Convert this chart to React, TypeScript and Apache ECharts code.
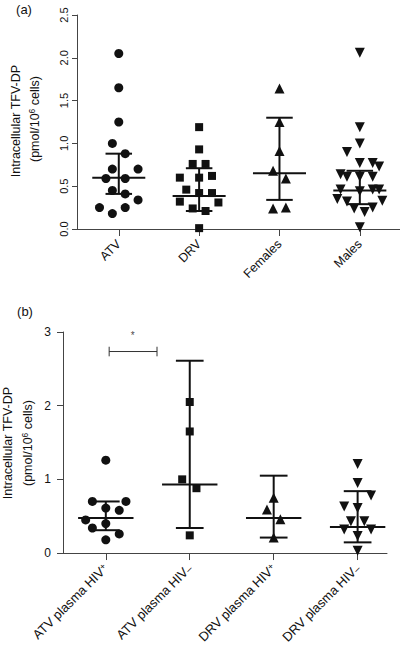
import React, { useEffect, useRef } from 'react';
import * as echarts from 'echarts';

// ---------- Panel (a) ----------
const groupsA = ['ATV', 'DRV', 'Females', 'Males'];
const atvA = [2.05, 1.65, 1.25, 1.0, 0.88, 0.7, 0.7, 0.59, 0.59, 0.45, 0.41, 0.34, 0.25, 0.25, 0.18];
const atvAJitter = [0, 0, 0, -0.08, 0.08, -0.08, 0.24, -0.16, 0.08, -0.08, 0.08, 0.24, -0.24, 0.08, -0.08];
const drvA = [1.19, 0.93, 0.76, 0.76, 0.62, 0.6, 0.6, 0.46, 0.42, 0.42, 0.32, 0.31, 0.24, 0.21, 0.01];
const drvAJitter = [0, 0, -0.08, 0.08, 0.16, 0, -0.24, -0.16, 0, 0.16, -0.24, 0.24, -0.08, 0.08, 0];
const femA = [1.64, 1.25, 0.91, 0.68, 0.59, 0.25, 0.24];
const femAJitter = [0, 0, 0, -0.08, 0.08, 0.08, -0.08];
const maleA = [2.06, 1.19, 1.0, 0.9, 0.77, 0.77, 0.73, 0.64, 0.61, 0.61, 0.61, 0.46, 0.44, 0.46, 0.46, 0.35, 0.32, 0.33, 0.24, 0.25, 0.2, 0.02];
const maleAJitter = [0, 0, 0, -0.16, 0, 0.16, 0.24, -0.24, -0.16, 0, 0.16, -0.24, 0, 0.16, 0.24, -0.28, -0.16, 0.28, -0.07, 0.16, 0.06, 0];
const medianA = [0.6, 0.385, 0.65, 0.45];
const lowerA = [0.41, 0.21, 0.34, 0.29];
const upperA = [0.88, 0.71, 1.3, 0.68];
const yTicksA = [0, 0.5, 1.0, 1.5, 2.0, 2.5];

// ---------- Panel (b) ----------
const groupsB = ['ATV plasma HIV+', 'ATV plasma HIV–', 'DRV plasma HIV+', 'DRV plasma HIV–'];
const atvPosB = [1.26, 0.7, 0.7, 0.61, 0.58, 0.45, 0.4, 0.34, 0.26, 0.18];
const atvPosBJitter = [0, -0.16, 0.24, 0, 0.16, -0.24, 0, -0.16, 0.16, 0];
const atvNegB = [2.05, 1.65, 1.0, 0.88, 0.24];
const atvNegBJitter = [0, 0, -0.09, 0.08, 0];
const drvPosB = [0.75, 0.59, 0.46, 0.21];
const drvPosBJitter = [0, -0.08, 0.08, 0];
const drvNegB = [1.21, 0.95, 0.78, 0.63, 0.61, 0.43, 0.43, 0.32, 0.32, 0.23, 0.03];
const drvNegBJitter = [0, 0, 0.16, -0.16, 0, -0.08, 0.08, -0.16, 0.16, 0, 0];
const medianB = [0.475, 0.93, 0.475, 0.355];
const lowerB = [0.31, 0.34, 0.21, 0.145];
const upperB = [0.7, 2.61, 1.05, 0.84];
const yTicksB = [0, 1, 2, 3];
// significance bracket (group units / y units)
const sigBracket = { x0: 0.04, x1: 0.61, y: 2.735, tick: 0.065 };
const sigStar = { x: 0.32, y: 2.95, text: '*' };

const FONT = 'Liberation Sans, Arial, Helvetica, sans-serif';
const INK = '#111';
const AXIS = '#444';

function pts(vals: number[], jit: number[], idx: number) {
  return vals.map((v, i) => [idx + jit[i], v]);
}

function errorSeries(meds: number[], los: number[], his: number[], ax: number) {
  return {
    type: 'custom',
    xAxisIndex: ax,
    yAxisIndex: ax,
    z: 5,
    encode: { x: 0, y: 1 },
    data: meds.map((m, i) => [i, m, los[i], his[i]]),
    renderItem: (params: any, api: any) => {
      const x = api.value(0);
      const pm = api.coord([x, api.value(1)]);
      const pl = api.coord([x, api.value(2)]);
      const ph = api.coord([x, api.value(3)]);
      const wm = api.size([0.33, 0])[0];
      const wc = api.size([0.165, 0])[0];
      const st = { stroke: INK, lineWidth: 2 };
      return {
        type: 'group',
        children: [
          { type: 'line', shape: { x1: pl[0], y1: pl[1], x2: ph[0], y2: ph[1] }, style: st },
          { type: 'line', shape: { x1: pm[0] - wm, y1: pm[1], x2: pm[0] + wm, y2: pm[1] }, style: st },
          { type: 'line', shape: { x1: pl[0] - wc, y1: pl[1], x2: pl[0] + wc, y2: pl[1] }, style: st },
          { type: 'line', shape: { x1: ph[0] - wc, y1: ph[1], x2: ph[0] + wc, y2: ph[1] }, style: st },
        ],
      };
    },
  };
}

function scatter(data: number[][], ax: number, symbol: string, size: number, rotate = 0) {
  return {
    type: 'scatter',
    xAxisIndex: ax,
    yAxisIndex: ax,
    symbol,
    symbolSize: size,
    symbolRotate: rotate,
    itemStyle: { color: INK, opacity: 1 },
    data,
    z: 3,
  };
}

export default function App() {
  const ref = useRef<HTMLDivElement>(null);
  useEffect(() => {
    if (!ref.current) return;
    const chart = echarts.init(ref.current, null, { renderer: 'svg' });
    const lineSeries = (d: number[][]) => ({
      type: 'line',
      xAxisIndex: 1,
      yAxisIndex: 1,
      data: d,
      symbol: 'none',
      lineStyle: { color: '#333', width: 1 },
      z: 4,
    });
    const b = sigBracket;
    const option: any = {
      animation: false,
      backgroundColor: '#fff',
      textStyle: { fontFamily: FONT },
      grid: [
        { left: 77, top: 15, width: 323, height: 214 },
        { left: 63, top: 332, width: 324, height: 223 },
      ],
      xAxis: [
        {
          type: 'value',
          gridIndex: 0,
          min: -0.52,
          max: 3.5,
          axisLine: { show: true, onZero: false, lineStyle: { color: AXIS, width: 1 } },
          axisTick: { show: true, customValues: [0, 1, 2, 3], length: 7, lineStyle: { color: AXIS } },
          axisLabel: {
            customValues: [0, 1, 2, 3],
            formatter: (v: number) => groupsA[Math.round(v)] ?? '',
            rotate: 45,
            margin: 13,
            fontSize: 12.5,
            color: INK,
            fontFamily: FONT,
          },
          splitLine: { show: false },
        },
        {
          type: 'value',
          gridIndex: 1,
          min: -0.51,
          max: 3.35,
          axisLine: { show: true, onZero: false, lineStyle: { color: AXIS, width: 1 } },
          axisTick: { show: true, customValues: [0, 1, 2, 3], length: 7, lineStyle: { color: AXIS } },
          axisLabel: {
            customValues: [0, 1, 2, 3],
            formatter: (v: number) => {
              const s = groupsB[Math.round(v)] ?? '';
              const sign = s.slice(-1);
              const base = s.slice(0, -1);
              return sign === '+' ? '{n|' + base + '}{sp|+}' : '{n|' + base + '}{sb|–}';
            },
            rotate: 45,
            margin: 13,
            fontSize: 13,
            color: INK,
            fontFamily: FONT,
            rich: {
              n: { fontSize: 13, color: INK, fontFamily: FONT },
              sp: { fontSize: 9, verticalAlign: 'top', color: INK, fontFamily: FONT },
              sb: { fontSize: 10, verticalAlign: 'bottom', color: INK, fontFamily: FONT },
            },
          },
          splitLine: { show: false },
        },
      ],
      yAxis: [
        {
          type: 'value',
          gridIndex: 0,
          min: yTicksA[0],
          max: yTicksA[yTicksA.length - 1],
          interval: 0.5,
          axisLine: { show: true, onZero: false, lineStyle: { color: AXIS, width: 1 } },
          axisTick: { show: true, length: 5, lineStyle: { color: AXIS } },
          axisLabel: {
            rotate: 90,
            margin: 8,
            fontSize: 11,
            color: INK,
            fontFamily: FONT,
            formatter: (v: number) => v.toFixed(1),
          },
          splitLine: { show: false },
        },
        {
          type: 'value',
          gridIndex: 1,
          min: yTicksB[0],
          max: yTicksB[yTicksB.length - 1],
          interval: 1,
          axisLine: { show: true, onZero: false, lineStyle: { color: AXIS, width: 1 } },
          axisTick: { show: true, length: 6, lineStyle: { color: AXIS } },
          axisLabel: { margin: 12, fontSize: 12, color: INK, fontFamily: FONT },
          splitLine: { show: false },
        },
      ],
      graphic: [
        { type: 'text', x: 24, y: 9, style: { text: '(a)', fontSize: 13, fontFamily: FONT, fill: INK, align: 'center', verticalAlign: 'middle' } },
        { type: 'text', x: 25, y: 311, style: { text: '(b)', fontSize: 13, fontFamily: FONT, fill: INK, align: 'center', verticalAlign: 'middle' } },
        { type: 'text', x: 16, y: 121, rotation: Math.PI / 2, style: { text: 'Intracellular TFV-DP', fontSize: 12.5, fontFamily: FONT, fill: INK, align: 'center', verticalAlign: 'middle' } },
        {
          type: 'text', x: 35, y: 119, rotation: Math.PI / 2,
          style: {
            text: '{n|(pmol/10}{s|6}{n| cells)}', fill: INK, align: 'center', verticalAlign: 'middle',
            rich: { n: { fontSize: 12.5, fontFamily: FONT, fill: INK, lineHeight: 15 }, s: { fontSize: 8.5, fontFamily: FONT, fill: INK, verticalAlign: 'top', lineHeight: 10 } },
          },
        },
        { type: 'text', x: 8, y: 443, rotation: Math.PI / 2, style: { text: 'Intracellular TFV-DP', fontSize: 12.5, fontFamily: FONT, fill: INK, align: 'center', verticalAlign: 'middle' } },
        {
          type: 'text', x: 28, y: 443, rotation: Math.PI / 2,
          style: {
            text: '{n|(pmol/10}{s|6}{n| cells)}', fill: INK, align: 'center', verticalAlign: 'middle',
            rich: { n: { fontSize: 12.5, fontFamily: FONT, fill: INK, lineHeight: 15 }, s: { fontSize: 8.5, fontFamily: FONT, fill: INK, verticalAlign: 'top', lineHeight: 10 } },
          },
        },
      ],
      series: [
        scatter(pts(atvA, atvAJitter, 0), 0, 'circle', 9),
        scatter(pts(drvA, drvAJitter, 1), 0, 'rect', 8),
        scatter(pts(femA, femAJitter, 2), 0, 'triangle', 10),
        scatter(pts(maleA, maleAJitter, 3), 0, 'triangle', 10, 180),
        errorSeries(medianA, lowerA, upperA, 0),
        scatter(pts(atvPosB, atvPosBJitter, 0), 1, 'circle', 9),
        scatter(pts(atvNegB, atvNegBJitter, 1), 1, 'rect', 8),
        scatter(pts(drvPosB, drvPosBJitter, 2), 1, 'triangle', 10),
        scatter(pts(drvNegB, drvNegBJitter, 3), 1, 'triangle', 10, 180),
        errorSeries(medianB, lowerB, upperB, 1),
        lineSeries([[b.x0, b.y], [b.x1, b.y]]),
        lineSeries([[b.x0, b.y - b.tick], [b.x0, b.y + b.tick]]),
        lineSeries([[b.x1, b.y - b.tick], [b.x1, b.y + b.tick]]),
        {
          type: 'scatter',
          xAxisIndex: 1,
          yAxisIndex: 1,
          symbolSize: 0,
          data: [[sigStar.x, sigStar.y]],
          label: { show: true, position: 'inside', formatter: sigStar.text, fontSize: 10, color: INK, fontFamily: FONT },
        },
      ],
    };
    chart.setOption(option);
    return () => chart.dispose();
  }, []);
  return <div ref={ref} style={{ position: 'fixed', left: 0, top: 0, width: 400, height: 646, background: '#fff' }} />;
}
